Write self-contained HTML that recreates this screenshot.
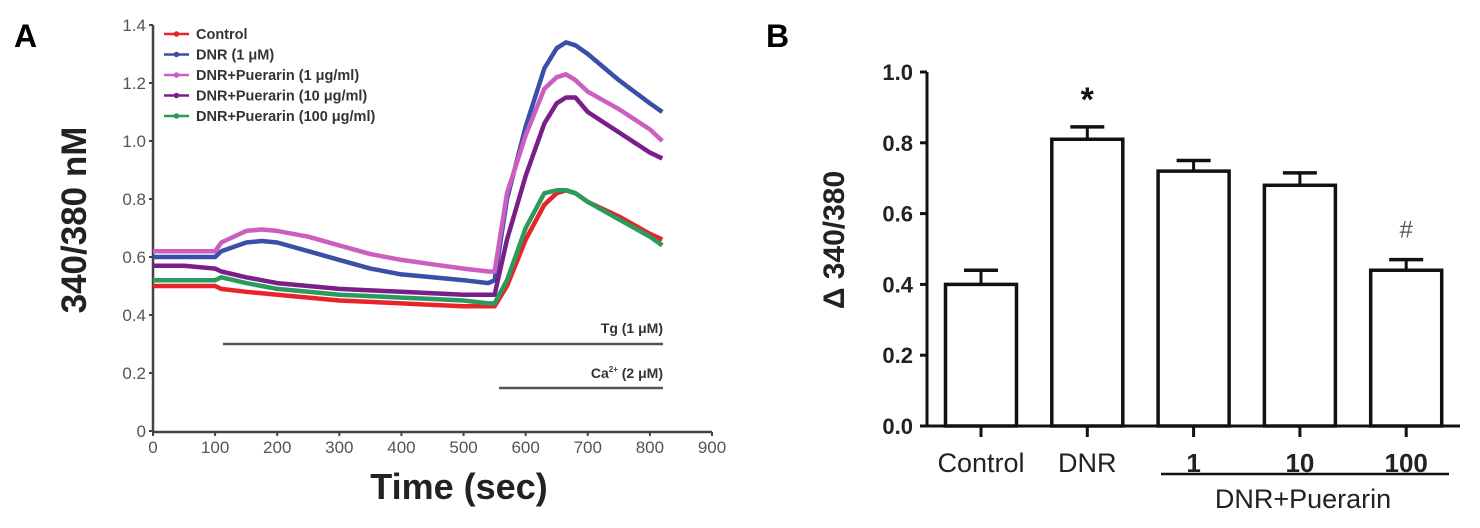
<!DOCTYPE html>
<html><head><meta charset="utf-8"><style>
html,body{margin:0;padding:0;background:#fff;}
svg{display:block;font-family:"Liberation Sans",Arial,sans-serif;}
</style></head><body>
<svg id="fig" width="1480" height="528" viewBox="0 0 1480 528">
<text x="14" y="47" font-size="32" font-weight="bold">A</text>
<text x="766" y="47" font-size="32" font-weight="bold">B</text>
<g id="pa"></g>
<g id="pb"></g>
</svg>
<script>
// ---- Panel A data ----
const times = [0,50,100,110,150,175,200,250,300,350,400,450,500,540,550,570,600,630,650,665,680,700,750,800,820];
const controlVals = [0.50,0.50,0.50,0.49,0.48,0.475,0.47,0.46,0.45,0.445,0.44,0.435,0.43,0.43,0.43,0.50,0.66,0.78,0.82,0.83,0.82,0.79,0.74,0.68,0.66];
const dnrVals = [0.60,0.60,0.60,0.62,0.65,0.655,0.65,0.62,0.59,0.56,0.54,0.53,0.52,0.51,0.52,0.80,1.05,1.25,1.32,1.34,1.33,1.30,1.21,1.13,1.10];
const pue1Vals = [0.62,0.62,0.62,0.65,0.69,0.695,0.69,0.67,0.64,0.61,0.59,0.575,0.56,0.55,0.55,0.82,1.02,1.18,1.22,1.23,1.21,1.17,1.11,1.04,1.00];
const pue10Vals = [0.57,0.57,0.56,0.55,0.53,0.52,0.51,0.50,0.49,0.485,0.48,0.475,0.47,0.47,0.47,0.66,0.88,1.06,1.13,1.15,1.15,1.10,1.03,0.96,0.94];
const pue100Vals = [0.52,0.52,0.52,0.53,0.51,0.50,0.49,0.48,0.47,0.465,0.46,0.455,0.45,0.44,0.44,0.52,0.70,0.82,0.83,0.83,0.82,0.79,0.73,0.67,0.64];
const seriesNames = ["Control","DNR (1 μM)","DNR+Puerarin (1 μg/ml)","DNR+Puerarin (10 μg/ml)","DNR+Puerarin (100 μg/ml)"];
const xTicksA = [0,100,200,300,400,500,600,700,800,900];
const yTicksA = [0,0.2,0.4,0.6,0.8,1.0,1.2,1.4];
const yTickLabelsA = ["0","0.2","0.4","0.6","0.8","1.0","1.2","1.4"];
// ---- Panel B data ----
const barCats = ["Control","DNR","1","10","100"];
const barVals = [0.40,0.81,0.72,0.68,0.44];
const barErrs = [0.04,0.035,0.03,0.035,0.03];
const barMarks = ["","*","","","#"];
const yTicksB = [0,0.2,0.4,0.6,0.8,1.0];
const yTickLabelsB = ["0.0","0.2","0.4","0.6","0.8","1.0"];

const NS="http://www.w3.org/2000/svg";
function mk(tag,attrs,parent,text){const e=document.createElementNS(NS,tag);for(const k in attrs)e.setAttribute(k,attrs[k]);if(text!==undefined)e.textContent=text;parent.appendChild(e);return e;}

// Panel A
const pa=document.getElementById('pa');
const ax=t=>153+t*(712-153)/900;
const ay=v=>431-v*(431-25)/1.4;
const colors=["#e8242a","#3a4fa8","#cc5ec0","#7a1f8a","#2a9a5e"];
const seriesVals=[controlVals,dnrVals,pue1Vals,pue10Vals,pue100Vals];
let a;
a=mk('line',{x1:153,y1:ay(1.4),x2:153,y2:432,stroke:"#444","stroke-width":2.5},pa);

a=mk('line',{x1:152,y1:432,x2:712,y2:432,stroke:"#444","stroke-width":2.5},pa);

yTicksA.forEach((v,i)=>{
  let t=mk('line',{x1:149,y1:ay(v),x2:153,y2:ay(v),stroke:"#444","stroke-width":2},pa);
  
  let l=mk('text',{x:146,y:ay(v)+6,"text-anchor":"end","font-size":17,fill:"#555"},pa,yTickLabelsA[i]);
  
});
xTicksA.forEach(v=>{
  let t=mk('line',{x1:ax(v),y1:432,x2:ax(v),y2:436,stroke:"#444","stroke-width":2},pa);
  
  let l=mk('text',{x:ax(v),y:453,"text-anchor":"middle","font-size":17,fill:"#555"},pa,String(v));
  
});
seriesVals.forEach((vals,si)=>{
  const d=vals.map((v,i)=>(i?'L':'M')+ax(times[i]).toFixed(1)+','+ay(v).toFixed(1)).join(' ');
  let p=mk('path',{d:d,fill:"none",stroke:colors[si],"stroke-width":4.5,"stroke-linejoin":"round"},pa);
  
  const ly=34+si*20.5;
  let ll=mk('line',{x1:164,y1:ly,x2:189,y2:ly,stroke:colors[si],"stroke-width":2.5},pa);
  
  let lc=mk('circle',{cx:176.5,cy:ly,r:2.8,fill:colors[si]},pa);
  
  let lt=mk('text',{x:196,y:ly+5,"font-size":14.5,"font-weight":"bold",fill:"#333"},pa,seriesNames[si]);
  
});
a=mk('line',{x1:223,y1:344,x2:663,y2:344,stroke:"#555","stroke-width":2.5},pa);

a=mk('text',{x:663,y:333,"text-anchor":"end","font-size":14,"font-weight":"bold",fill:"#333"},pa,"Tg (1 μM)");

a=mk('line',{x1:499,y1:388,x2:663,y2:388,stroke:"#555","stroke-width":2.5},pa);

a=mk('text',{x:663,y:378,"text-anchor":"end","font-size":14,"font-weight":"bold",fill:"#333"},pa);
a.innerHTML='Ca<tspan font-size="8" dy="-6">2+</tspan><tspan dy="6"> (2 μM)</tspan>';

a=mk('text',{x:459,y:499,"text-anchor":"middle","font-size":36,"font-weight":"bold",fill:"#222"},pa,"Time (sec)");

a=mk('text',{x:0,y:0,"text-anchor":"middle","font-size":35,"font-weight":"bold",fill:"#222",transform:"translate(86,220) rotate(-90)"},pa,"340/380 nM");


// Panel B
const pb=document.getElementById('pb');
const by=v=>426-v*(426-72)/1.0;
const bx=i=>981+i*106.3;
const bw=71;
a=mk('line',{x1:927,y1:by(1.0),x2:927,y2:427,stroke:"#111","stroke-width":3},pb);

a=mk('line',{x1:926,y1:426,x2:1460,y2:426,stroke:"#111","stroke-width":3},pb);

yTicksB.forEach((v,i)=>{
  let t=mk('line',{x1:920,y1:by(v),x2:927,y2:by(v),stroke:"#111","stroke-width":3},pb);
  
  let l=mk('text',{x:913,y:by(v)+8,"text-anchor":"end","font-size":22,"font-weight":"bold",fill:"#222"},pb,yTickLabelsB[i]);
  
});
barCats.forEach((c,i)=>{
  const cx=bx(i), v=barVals[i], e=barErrs[i];
  let el=mk('line',{x1:cx,y1:by(v),x2:cx,y2:by(v+e),stroke:"#111","stroke-width":3},pb);
  
  let ec=mk('line',{x1:cx-17,y1:by(v+e),x2:cx+17,y2:by(v+e),stroke:"#111","stroke-width":3.5},pb);
  
  let r=mk('rect',{x:cx-bw/2,y:by(v),width:bw,height:by(0)-by(v),fill:"#fff",stroke:"#111","stroke-width":3.5},pb);
  
  let t=mk('line',{x1:cx,y1:426,x2:cx,y2:437,stroke:"#111","stroke-width":3},pb);
  
  const bold=i>=2;
  let l=mk('text',{x:cx,y:472,"text-anchor":"middle","font-size":bold?26:27,"font-weight":bold?"bold":"normal",fill:"#222"},pb,c);
  
  if(barMarks[i]){
    const isStar=barMarks[i]==="*";
    let m=mk('text',{x:cx,y:isStar?by(v+e)-16:by(v+e)-22,"text-anchor":"middle","font-size":isStar?34:24,"font-weight":isStar?"bold":"normal",fill:isStar?"#111":"#555"},pb,barMarks[i]);
    
  }
});
a=mk('line',{x1:1161,y1:474,x2:1449,y2:474,stroke:"#111","stroke-width":2.5},pb);

a=mk('text',{x:1303,y:508,"text-anchor":"middle","font-size":27,fill:"#222"},pb,"DNR+Puerarin");

a=mk('text',{x:0,y:0,"text-anchor":"middle","font-size":30,"font-weight":"bold",fill:"#222",transform:"translate(844,240) rotate(-90)"},pb,"Δ 340/380");

</script>
</body></html>
